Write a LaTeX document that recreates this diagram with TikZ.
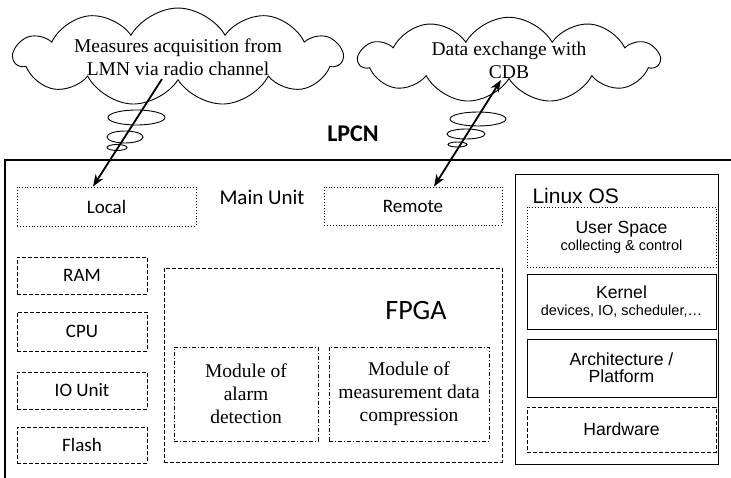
\documentclass[tikz,border=0pt]{standalone}
\usepackage{fontspec}
\setmainfont{Liberation Serif}
\newfontfamily\calib{Carlito}
\newfontfamily\arialf{Liberation Sans}
\usetikzlibrary{arrows.meta,shapes.geometric,shapes.symbols,positioning}

\begin{document}
\begin{tikzpicture}[x=1pt,y=-1pt,
	cbox/.style={draw,line width=0.9pt,inner sep=0pt,font=\calib\fontsize{19}{22}\selectfont},
	dotbox/.style={cbox,dotted},
	dashbox/.style={cbox,dash pattern=on 4pt off 2pt},
	modbox/.style={draw,line width=0.9pt,dash pattern=on 4pt off 2pt on 1pt off 2pt,inner sep=0pt,align=center,font=\fontsize{19.5}{23}\selectfont},
	osbox/.style={draw,line width=0.9pt,inner sep=0pt,align=center,font=\arialf\fontsize{17.6}{17}\selectfont},
	thought/.style={draw,ellipse,line width=0.9pt,inner sep=0pt},
	bubble/.style={draw,cloud,cloud puffs=11,cloud puff arc=120,cloud ignores aspect,line width=0.9pt,inner sep=0pt,align=center,font=\fontsize{19.5}{23}\selectfont},
	link/.style={line width=1.8pt,-{Stealth[length=12pt,width=9pt]}}]
	\useasboundingbox (0,0) rectangle (731,478);
	% frame of the LPCN
	\draw[line width=1.5pt] (5,478) -- (5,160) -- (731,160);
	\node[font=\calib\bfseries\fontsize{24}{28}\selectfont] (lpcn) at (353,134) {LPCN};
	% main unit
	\node[dotbox,minimum width=179pt,minimum height=39pt] (local) at (106.5,206.5) {Local};
	\node[font=\calib\fontsize{21}{24}\selectfont] (mainunit) at (262,197) {Main Unit};
	\node[dotbox,minimum width=178pt,minimum height=38pt] (remote) at (413,206) {Remote};
	\node[dashbox,minimum width=130pt,minimum height=37pt] (ram) at (82,275.5) {RAM};
	\node[dashbox,minimum width=130pt,minimum height=39pt] (cpu) at (82,331.5) {CPU};
	\node[dashbox,minimum width=130pt,minimum height=37pt] (io) at (82,390.5) {IO Unit};
	\node[dashbox,minimum width=130pt,minimum height=36pt] (flash) at (82,445) {Flash};
	% FPGA
	\node[dashbox,minimum width=338pt,minimum height=194pt] (fpga) at (333,365) {};
	\node[font=\calib\fontsize{28}{32}\selectfont] (fpgatxt) at (416,311) {FPGA};
	\node[modbox,minimum width=144pt,minimum height=94pt] (alarm) at (246,394) {Module of\\alarm\\detection};
	\node[modbox,minimum width=160pt,minimum height=94pt] (compr) at (409,394) {Module of\\measurement data\\compression};
	% Linux OS
	\node[osbox,minimum width=203pt,minimum height=290pt] (linux) at (616.5,319) {};
	\node[font=\arialf\fontsize{21}{24}\selectfont,anchor=west] (linuxtxt) at (529,196) {Linux OS};
	\node[osbox,dotted,minimum width=189pt,minimum height=60pt] (user) at (621.5,237) {User Space\\{\fontsize{14.5}{17}\selectfont collecting \& control}};
	\node[osbox,minimum width=189pt,minimum height=55pt] (kernel) at (621.5,301.5) {Kernel\\{\fontsize{14.5}{17}\selectfont devices, IO, scheduler,\dots}};
	\node[osbox,minimum width=189pt,minimum height=58pt] (arch) at (621.5,368) {Architecture /\\Platform};
	\node[osbox,dash pattern=on 4pt off 2pt,minimum width=189pt,minimum height=45pt] (hw) at (621.5,429.5) {Hardware};
	% clouds
	\node[bubble,minimum width=328pt,minimum height=82pt] (radio) at (178,57) {Measures acquisition from\\LMN via radio channel};
	\node[thought,minimum width=57pt,minimum height=15pt] (r1) at (136.5,117.5) {};
	\node[thought,minimum width=36pt,minimum height=12pt] (r2) at (125,137) {};
	\node[thought,minimum width=20pt,minimum height=6pt] (r3) at (117,147.5) {};
	\node[bubble,minimum width=300pt,minimum height=78pt] (cdb) at (509,60) {Data exchange with\\CDB};
	\node[thought,minimum width=56pt,minimum height=14pt] (c1) at (478,119) {};
	\node[thought,minimum width=38pt,minimum height=10pt] (c2) at (466,134) {};
	\node[thought,minimum width=19pt,minimum height=5pt] (c3) at (457.5,144.5) {};
	% links
	\coordinate (radioend) at (162,79);
	\coordinate (cdbend) at (501,80);
	\draw[link] (radioend) -- ([xshift=-13.5pt]local.north);
	\draw[link,{Stealth[length=12pt,width=9pt]}-{Stealth[length=12pt,width=9pt]}] (cdbend) -- ([xshift=21pt]remote.north);
\end{tikzpicture}
\end{document}
